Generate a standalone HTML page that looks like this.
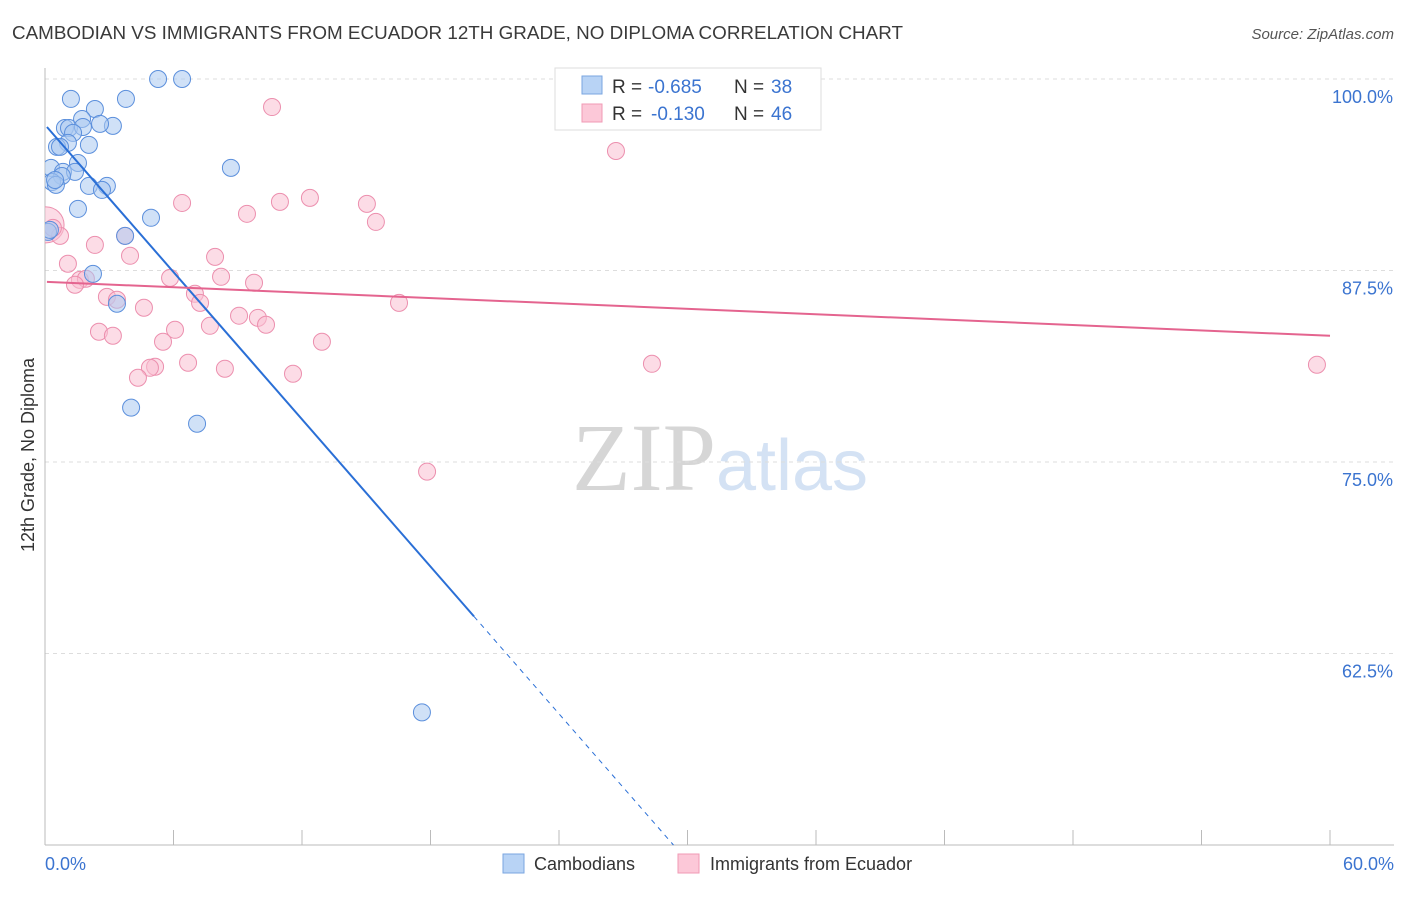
<!DOCTYPE html>
<html><head><meta charset="utf-8"><style>
body{margin:0;background:#fff;font-family:"Liberation Sans",sans-serif}
svg text{font-family:"Liberation Sans",sans-serif}
</style></head><body>
<svg id="chart" width="1406" height="892" viewBox="0 0 1406 892" xmlns="http://www.w3.org/2000/svg">
<defs><clipPath id="plotclip"><rect x="45" y="60" width="1360" height="786"/></clipPath></defs>
<text x="12" y="39" font-size="18" fill="#3a3a3a" textLength="891" lengthAdjust="spacingAndGlyphs">CAMBODIAN VS IMMIGRANTS FROM ECUADOR 12TH GRADE, NO DIPLOMA CORRELATION CHART</text>
<text x="1394" y="39" font-size="15" fill="#555" text-anchor="end" font-style="italic">Source: ZipAtlas.com</text>
<text x="720" y="490" font-size="96" text-anchor="middle" font-family="Liberation Serif" fill="#e0e0e0"><tspan fill="#d6d6d6" font-family="Liberation Serif">ZIP</tspan><tspan fill="#d4e2f4" font-family="Liberation Sans" font-size="72">atlas</tspan></text>
<g id="grid"></g>
<g id="axes"></g>
<g id="points" clip-path="url(#plotclip)"></g>
<g id="trends"></g>
<text transform="translate(34,455) rotate(-90)" font-size="18" fill="#333" text-anchor="middle">12th Grade, No Diploma</text>
<g>
<rect x="555" y="68" width="266" height="62" fill="#fff" stroke="#ddd"/>
<rect x="582" y="76" width="20" height="18" fill="#b8d3f5" stroke="#7aa6e0"/>
<rect x="582" y="104" width="20" height="18" fill="#fcc8d8" stroke="#f09ab5"/>
<text x="612" y="93" font-size="19" fill="#333">R =</text>
<text x="648" y="93" font-size="19" fill="#3b74d0">-0.685</text>
<text x="734" y="93" font-size="19" fill="#333">N =</text>
<text x="771" y="93" font-size="19" fill="#3b74d0">38</text>
<text x="612" y="120" font-size="19" fill="#333">R =</text>
<text x="651" y="120" font-size="19" fill="#3b74d0">-0.130</text>
<text x="734" y="120" font-size="19" fill="#333">N =</text>
<text x="771" y="120" font-size="19" fill="#3b74d0">46</text>
</g>
<g>
<rect x="503" y="854" width="21" height="19" fill="#b8d3f5" stroke="#7aa6e0"/>
<text x="534" y="870" font-size="18" fill="#333">Cambodians</text>
<rect x="678" y="854" width="21" height="19" fill="#fcc8d8" stroke="#f09ab5"/>
<text x="710" y="870" font-size="18" fill="#333">Immigrants from Ecuador</text>
</g>
</svg>
<script>
const xTicks=[0,6,12,18,24,30,36,42,48,54,60];
const yTicks=[62.5,75,87.5,100];
const blueX=[5.28,6.40,1.21,3.78,2.33,0.93,1.12,1.73,1.77,3.17,2.57,1.31,1.07,2.05,0.56,0.70,1.54,8.68,0.28,0.84,1.40,0.79,0.33,0.51,2.05,2.89,2.66,1.54,4.95,0.14,3.74,2.24,3.36,4.02,7.10,17.60,0.47,0.23];
const blueY=[100,100,98.70,98.70,98.04,96.80,96.80,97.39,96.87,96.94,97.07,96.48,95.83,95.70,95.57,95.57,94.52,94.20,94.20,93.94,93.94,93.67,93.28,93.09,93.02,93.02,92.76,91.52,90.94,90.02,89.76,87.28,85.33,78.55,77.50,58.66,93.41,90.15];
const pinkX=[10.60,26.66,6.40,10.97,12.37,15.03,9.43,15.45,0.05,0.70,2.33,3.97,7.94,1.07,8.22,5.84,9.76,1.63,1.91,1.40,7.00,2.89,3.36,7.24,4.62,16.53,9.06,9.94,7.70,10.32,6.07,2.52,3.17,5.51,12.93,6.68,28.34,59.39,5.14,4.90,8.40,11.58,4.34,17.84,3.74,0.37];
const pinkY=[98.17,95.30,91.91,91.98,92.24,91.85,91.20,90.67,90.48,89.76,89.17,88.46,88.39,87.94,87.09,87.02,86.70,86.89,86.96,86.57,85.98,85.78,85.59,85.39,85.07,85.39,84.55,84.41,83.89,83.96,83.63,83.50,83.24,82.85,82.85,81.48,81.41,81.35,81.22,81.15,81.09,80.76,80.50,74.37,89.76,90.28];
const blueTrend=[97.01,-1.602];
const pinkTrend=[86.76,-0.0587];
const NS="http://www.w3.org/2000/svg";
const X=v=>45+v/60*1285;
const Y=v=>79+(100-v)/50*766;
function mk(t,a,p){const e=document.createElementNS(NS,t);for(const k in a)e.setAttribute(k,a[k]);p.appendChild(e);return e;}
const grid=document.getElementById('grid'),axes=document.getElementById('axes'),pts=document.getElementById('points'),tr=document.getElementById('trends');
yTicks.forEach(t=>{
 const l=mk('line',{x1:45,x2:1394,y1:Y(t),y2:Y(t),stroke:'#ddd','stroke-dasharray':'4,4'},grid);
 
 
 const tx=mk('text',{x:1393,y:Y(t)+24,'font-size':18,fill:'#3b74d0','text-anchor':'end'},axes);
 tx.textContent=t.toFixed(1)+'%';
 
 
});
const ya=mk('line',{x1:45,x2:45,y1:68,y2:845,stroke:'#bbb'},axes);


const xa=mk('line',{x1:45,x2:1394,y1:845,y2:845,stroke:'#bbb'},axes);


xTicks.forEach(t=>{
 const l=mk('line',{x1:X(t),x2:X(t),y1:830,y2:845,stroke:'#bbb'},axes);
 
 
});
[[0,'start'],[60,'end']].forEach(([t,a])=>{
 const tx=mk('text',{x:X(t)+(t==0?0:64),y:870,'font-size':18,fill:'#3b74d0','text-anchor':a},axes);
 tx.textContent=t.toFixed(1)+'%';
 
 
});
function dots(xs,ys,fill,stroke,name,bigIdx){
 xs.forEach((v,i)=>{
  const c=mk('circle',{cx:X(v),cy:Y(ys[i]),r:i===bigIdx?18:8.5,fill:fill,'fill-opacity':0.55,stroke:stroke,'stroke-width':1},pts);
  
  
 });
}
dots(pinkX,pinkY,'#f9bfd1','#ec8fae','ecuador-point',8);
dots(blueX,blueY,'#a9c8f0','#5b8fdc','cambodian-point',-1);
const bEnd=20.03,bZero=(50-blueTrend[0])/blueTrend[1];
const b1=mk('line',{x1:X(0.09),y1:Y(blueTrend[0]+blueTrend[1]*0.09),x2:X(bEnd),y2:Y(blueTrend[0]+blueTrend[1]*bEnd),stroke:'#2a6fd6','stroke-width':2},tr);


const b2=mk('line',{x1:X(bEnd),y1:Y(blueTrend[0]+blueTrend[1]*bEnd),x2:X(bZero),y2:Y(50),stroke:'#2a6fd6','stroke-width':1,'stroke-dasharray':'5,5'},tr);


const p1=mk('line',{x1:X(0.09),y1:Y(pinkTrend[0]+pinkTrend[1]*0.09),x2:X(60),y2:Y(pinkTrend[0]+pinkTrend[1]*60),stroke:'#e4648f','stroke-width':2},tr);


</script>
</body></html>
